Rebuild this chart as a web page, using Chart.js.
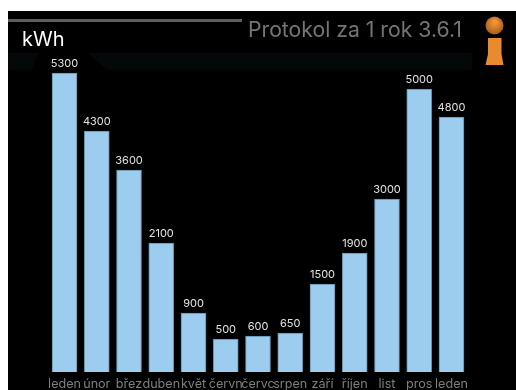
<!DOCTYPE html>
<html>
<head>
<meta charset="utf-8">
<style>
html,body{margin:0;padding:0;background:#fff;width:516px;height:390px;overflow:hidden}
#w{position:absolute;left:0;top:0;width:516px;height:390px}
</style>
<script src="https://cdn.jsdelivr.net/npm/chart.js@4"></script>
</head>
<body>
<div id="w"><canvas id="c" width="516" height="390"></canvas></div>
<script>
const categories = ["leden","únor","břez","duben","květ","červn","červc","srpen","září","říjen","list","pros","leden"];
// The numbers printed above the bars
const printedValues = [5300,4300,3600,2100,900,500,600,650,1500,1900,3000,5000,4800];
// Bar heights (the source bars are not exactly proportional to their printed numbers)
const barHeights = [5300,4272,3581,2287,1046,585,638,691,1560,2109,3067,5016,4520];
const unitLabel = "kWh";
const titleText = "Protokol za 1 rok 3.6.1";
const FONT = "Inter, 'Open Sans', sans-serif";

const screenPlugin = {
  id: 'screen',
  beforeDraw(chart) {
    const g = chart.ctx;
    g.save();
    g.fillStyle = '#000';
    g.fillRect(8, 11, 508, 379);
    g.fillStyle = '#050809';
    g.beginPath();
    g.moveTo(8,53); g.lineTo(38,53); g.lineTo(32,70); g.lineTo(8,70); g.closePath(); g.fill();
    g.beginPath();
    g.moveTo(87,53); g.lineTo(472,53); g.lineTo(472,70); g.lineTo(108,70); g.closePath(); g.fill();
    g.fillStyle = '#5b5f5d';
    g.fillRect(8, 19, 234, 3);
    g.fillStyle = '#fff';
    g.font = "20px " + FONT;
    g.textBaseline = 'alphabetic';
    g.textAlign = 'left';
    g.fillText(unitLabel, 22, 46);
    g.fillStyle = '#757575';
    g.font = "21.2px " + FONT;
    g.fillText(titleText, 248, 37);
    // info icon
    const o = g.createRadialGradient(494.5,22,2,494.5,25,10);
    o.addColorStop(0,'#f0923a'); o.addColorStop(1,'#a85a12');
    g.fillStyle = o;
    g.beginPath(); g.arc(494.5,25.5,9,0,Math.PI*2); g.fill();
    g.fillStyle = '#ea8a2e';
    g.beginPath();
    g.moveTo(488,38); g.lineTo(501.5,38); g.lineTo(501.5,54); g.lineTo(503.5,65); g.lineTo(485.5,65); g.lineTo(488,54); g.closePath(); g.fill();
    g.restore();
  },
  afterDatasetsDraw(chart) {
    const g = chart.ctx, meta = chart.getDatasetMeta(0);
    g.save();
    g.fillStyle = '#e2e2e2';
    g.font = "11px " + FONT;
    g.textAlign = 'center';
    g.textBaseline = 'alphabetic';
    meta.data.forEach((b, i) => g.fillText(String(printedValues[i]), b.x, b.y - 6));
    g.restore();
  }
};

new Chart(document.getElementById('c'), {
  type: 'bar',
  data: {
    labels: categories,
    datasets: [{
      data: barHeights,
      backgroundColor: '#9ccdee',
      borderColor: '#5f8ea8',
      borderWidth: 1,
      barThickness: 25
    }]
  },
  options: {
    responsive: false,
    animation: false,
    layout: { padding: { left: 48.4, right: 48.4, top: 40, bottom: 0 } },
    plugins: { legend: { display: false }, tooltip: { enabled: false } },
    scales: {
      x: {
        afterFit(scale) { scale.height = 18; },
        grid: { display: false, drawTicks: false },
        border: { display: false },
        ticks: { color: '#7f7f7f', font: { family: FONT, size: 12.6 }, autoSkip: false, maxRotation: 0, minRotation: 0, padding: 5 }
      },
      y: {
        display: false,
        min: 0,
        max: 5885
      }
    }
  },
  plugins: [screenPlugin]
});
</script>
</body>
</html>
